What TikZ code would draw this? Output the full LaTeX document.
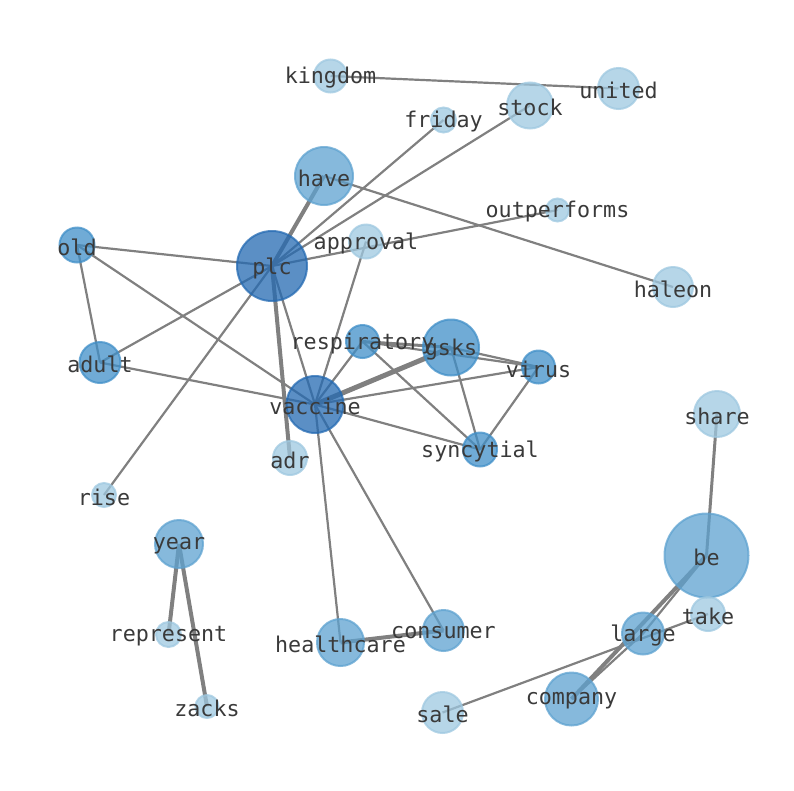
\documentclass[tikz,border=0pt]{standalone}
\usepackage{fontspec}
\setmonofont{DejaVu Sans Mono}
\definecolor{cdark}{RGB}{36,106,178}
\definecolor{cmid}{RGB}{64,143,200}
\definecolor{clmid}{RGB}{94,162,208}
\definecolor{clight}{RGB}{158,200,224}
\definecolor{edgegray}{RGB}{128,128,128}
\definecolor{labelgray}{RGB}{58,58,58}
\tikzset{
  bub/.style={circle, draw=#1, fill=#1, fill opacity=0.75, draw opacity=0.75, line width=2pt, inner sep=0pt},
  edg/.style={draw=edgegray, line width=2.2pt},
  thk/.style={draw=edgegray, line width=4pt},
  mthk/.style={draw=edgegray, line width=3pt},
  lbl/.style={text=labelgray, font=\ttfamily\fontsize{21.7}{24}\selectfont, inner sep=0pt, yshift=-2pt}
}
\begin{document}
\begin{tikzpicture}[x=1pt,y=-1pt]
\useasboundingbox (0,0) rectangle (794,790);
% coordinates
\coordinate (kingdom) at (330.5,76);
\coordinate (united) at (618.5,88.5);
\coordinate (stock) at (530,105.5);
\coordinate (friday) at (443.5,120);
\coordinate (have) at (324,176);
\coordinate (outperforms) at (557.5,210);
\coordinate (approval) at (366,241.5);
\coordinate (plc) at (272,266);
\coordinate (old) at (77,245);
\coordinate (haleon) at (673,287);
\coordinate (adult) at (100,362.5);
\coordinate (respiratory) at (362.5,341.5);
\coordinate (gsks) at (451,347.5);
\coordinate (virus) at (538.5,367);
\coordinate (vaccine) at (315,404.5);
\coordinate (syncytial) at (480,449.5);
\coordinate (adr) at (290,458);
\coordinate (share) at (717,414);
\coordinate (rise) at (104,495);
\coordinate (year) at (179,544);
\coordinate (be) at (706.5,555.5);
\coordinate (represent) at (168.5,634.5);
\coordinate (zacks) at (207,706.5);
\coordinate (healthcare) at (340.5,642.5);
\coordinate (consumer) at (443.5,630.5);
\coordinate (take) at (708,614);
\coordinate (large) at (643,633.5);
\coordinate (company) at (571.5,699);
\coordinate (sale) at (442.5,712.5);
% edges
\draw[edg] (kingdom) -- (united);
\draw[edg] (plc) -- (friday);
\draw[edg] (plc) -- (stock);
\draw[thk] (plc) -- (have);
\draw[edg] (have) -- (haleon);
\draw[edg] (plc) -- (outperforms);
\draw[edg] (approval) -- (vaccine);
\draw[edg] (plc) -- (old);
\draw[edg] (plc) -- (adult);
\draw[edg] (plc) -- (rise);
\draw[thk] (plc) -- (adr);
\draw[edg] (plc) -- (vaccine);
\draw[edg] (old) -- (adult);
\draw[edg] (old) -- (vaccine);
\draw[edg] (adult) -- (vaccine);
\draw[edg] (vaccine) -- (respiratory);
\draw[draw=edgegray, line width=5pt] (vaccine) -- (gsks);
\draw[edg] (vaccine) -- (virus);
\draw[edg] (vaccine) -- (syncytial);
\draw[edg] (vaccine) -- (healthcare);
\draw[edg] (vaccine) -- (consumer);
\draw[mthk] (respiratory) -- (gsks);
\draw[edg] (respiratory) -- (virus);
\draw[edg] (respiratory) -- (syncytial);
\draw[edg] (gsks) -- (virus);
\draw[edg] (gsks) -- (syncytial);
\draw[edg] (virus) -- (syncytial);
\draw[thk] (healthcare) -- (consumer);
\draw[thk] (year) -- (represent);
\draw[thk] (year) -- (zacks);
\draw[mthk] (be) -- (share);
\draw[thk] (be) -- (company);
\draw[edg] (be) -- (large);
\draw[edg] (large) -- (company);
\draw[edg] (sale) -- (take);
% bubbles
\node[bub=clight, minimum size=33pt] (n-kingdom) at (kingdom) {};
\node[bub=clight, minimum size=41pt] (n-united) at (united) {};
\node[bub=clight, minimum size=46pt] (n-stock) at (stock) {};
\node[bub=clight, minimum size=25pt] (n-friday) at (friday) {};
\node[bub=clmid, minimum size=58pt] (n-have) at (have) {};
\node[bub=clight, minimum size=23pt] (n-outperforms) at (outperforms) {};
\node[bub=clight, minimum size=34pt] (n-approval) at (approval) {};
\node[bub=cdark, minimum size=70pt] (n-plc) at (plc) {};
\node[bub=cmid, minimum size=35pt] (n-old) at (old) {};
\node[bub=clight, minimum size=40pt] (n-haleon) at (haleon) {};
\node[bub=cmid, minimum size=41pt] (n-adult) at (adult) {};
\node[bub=cmid, minimum size=33pt] (n-respiratory) at (respiratory) {};
\node[bub=cmid, minimum size=56pt] (n-gsks) at (gsks) {};
\node[bub=cmid, minimum size=33pt] (n-virus) at (virus) {};
\node[bub=cdark, minimum size=57pt] (n-vaccine) at (vaccine) {};
\node[bub=cmid, minimum size=34pt] (n-syncytial) at (syncytial) {};
\node[bub=clight, minimum size=34pt] (n-adr) at (adr) {};
\node[bub=clight, minimum size=46pt] (n-share) at (share) {};
\node[bub=clight, minimum size=24pt] (n-rise) at (rise) {};
\node[bub=clmid, minimum size=48pt] (n-year) at (year) {};
\node[bub=clmid, minimum size=84pt] (n-be) at (be) {};
\node[bub=clight, minimum size=25pt] (n-represent) at (represent) {};
\node[bub=clight, minimum size=23pt] (n-zacks) at (zacks) {};
\node[bub=clmid, minimum size=47pt] (n-healthcare) at (healthcare) {};
\node[bub=clmid, minimum size=41pt] (n-consumer) at (consumer) {};
\node[bub=clight, minimum size=34pt] (n-take) at (take) {};
\node[bub=clmid, minimum size=42pt] (n-large) at (large) {};
\node[bub=clmid, minimum size=53pt] (n-company) at (company) {};
\node[bub=clight, minimum size=41pt] (n-sale) at (sale) {};
% labels
\foreach \n in {kingdom,united,stock,friday,have,outperforms,approval,plc,old,haleon,adult,respiratory,gsks,virus,vaccine,syncytial,adr,share,rise,year,be,represent,zacks,healthcare,consumer,take,large,company,sale}
  \node[lbl] (t-\n) at (\n) {\n};
\end{tikzpicture}
\end{document}
